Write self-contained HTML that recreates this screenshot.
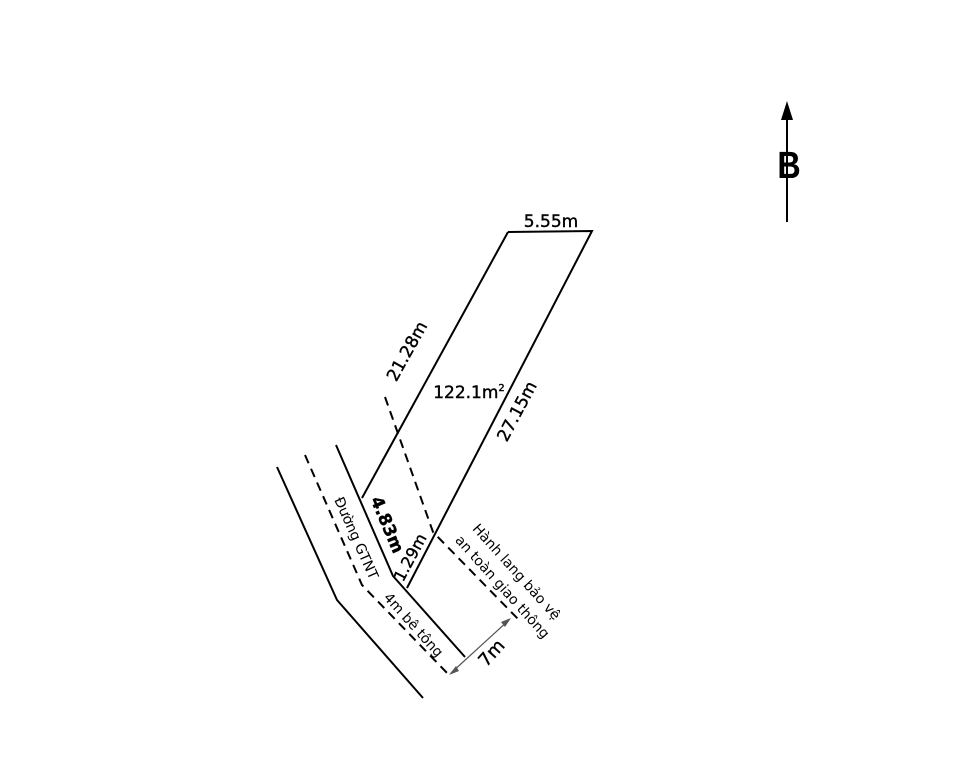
<!DOCTYPE html>
<html><head><meta charset="utf-8"><style>
html,body{margin:0;padding:0;background:#fff;}
svg{display:block;}
text{font-family:"DejaVu Sans","Liberation Sans",sans-serif;fill:#000;}
.t{stroke:#000;stroke-width:0.4;}
</style></head><body>
<svg width="960" height="781" viewBox="0 0 960 781" xmlns="http://www.w3.org/2000/svg">
<g stroke="#000" stroke-width="2" fill="none">
<line x1="787" y1="118" x2="787" y2="222"/>
<polyline points="508,232 592,231 407,588"/>
<line x1="508" y1="232" x2="362" y2="498"/>
<polyline points="336,445 393,576 465,657"/>
<polyline points="277,467 337,600 423,698"/>
</g>
<polygon points="787,101 781,120 793,120" fill="#000"/>
<g stroke="#000" stroke-width="2" fill="none" stroke-dasharray="9,6">
<polyline points="385,397 433,532 519,620"/>
<polyline points="305,455 362,585 449,675"/>
</g>
<g stroke="#555" stroke-width="1.2">
<line x1="451" y1="673" x2="509" y2="620"/>
</g>
<polygon points="449,675 456,666 459,671" fill="#555"/>
<polygon points="511,618 501,622 505,627" fill="#555"/>
<text x="789" y="178" font-size="38" font-weight="bold" text-anchor="middle" transform="translate(789,0) scale(0.85,1) translate(-789,0)" style="font-family:'Liberation Sans',sans-serif">B</text>
<text class="t" x="551" y="227" font-size="17" text-anchor="middle">5.55m</text>
<text class="t" x="469" y="398" font-size="17" text-anchor="middle">122.1m<tspan font-size="10" dy="-7">2</tspan></text>
<text class="t" font-size="17" text-anchor="middle" transform="translate(412,354) rotate(-61)">21.28m</text>
<text class="t" font-size="17" text-anchor="middle" transform="translate(522,414) rotate(-62)">27.15m</text>
<text class="t" font-size="17" font-weight="bold" text-anchor="middle" transform="translate(382,527) rotate(67)">4.83m</text>
<text class="t" font-size="16" text-anchor="middle" transform="translate(415,560) rotate(-62)">1.29m</text>
<text font-size="14" text-anchor="middle" transform="translate(352,540) rotate(66)">Đường GTNT</text>
<text font-size="14" text-anchor="middle" transform="translate(410,628) rotate(48)">4m bê tông</text>
<text font-size="14" text-anchor="middle" transform="translate(513,575) rotate(48)">Hành lang bảo vệ</text>
<text font-size="14" text-anchor="middle" transform="translate(499,590) rotate(48)">an toàn giao thông</text>
<text class="t" font-size="18" text-anchor="middle" transform="translate(496,657) rotate(-48)">7m</text>
</svg>
</body></html>
